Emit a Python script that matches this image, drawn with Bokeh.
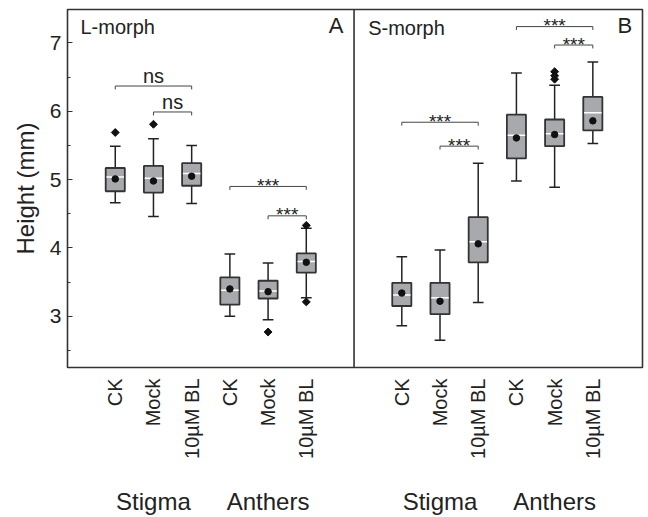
import math
from bokeh.plotting import figure
from bokeh.models import Range1d, LinearAxis, FixedTicker, Span, Label
from bokeh.embed import file_html
from bokeh.resources import INLINE

FONT = "Liberation Sans"

panels = ["L-morph", "S-morph"]
panel_tags = ["A", "B"]
groups = ["Stigma", "Anthers"]
treatments = ["CK", "Mock", "10µM BL"]

# Box order per panel: Stigma CK, Mock, 10µM BL, Anthers CK, Mock, 10µM BL
whisker_low = [4.66, 4.46, 4.65, 3.00, 2.95, 3.27,
               2.86, 2.65, 3.20, 4.98, 4.89, 5.53]
q1 = [4.83, 4.81, 4.91, 3.17, 3.26, 3.64,
      3.15, 3.03, 3.79, 5.31, 5.49, 5.72]
median = [5.04, 5.02, 5.09, 3.38, 3.37, 3.80,
          3.31, 3.27, 4.09, 5.65, 5.67, 5.98]
q3 = [5.17, 5.20, 5.24, 3.57, 3.52, 3.92,
      3.49, 3.49, 4.45, 5.95, 5.88, 6.21]
whisker_high = [5.49, 5.60, 5.50, 3.91, 3.78, 4.29,
                3.87, 3.97, 5.24, 6.56, 6.38, 6.72]
mean = [5.01, 4.98, 5.05, 3.40, 3.36, 3.79,
        3.34, 3.22, 4.06, 5.61, 5.66, 5.86]
outliers = [[5.69], [5.81], [], [], [2.77], [4.33, 3.21],
            [], [], [], [], [6.58, 6.52, 6.47], []]

# significance brackets: panel, first box, last box (1..6 within panel), level, label
br_panel = [0, 0, 0, 0, 1, 1, 1, 1]
br_from = [1, 2, 4, 5, 1, 2, 4, 5]
br_to = [3, 3, 6, 6, 3, 3, 6, 6]
br_level = [6.37, 5.99, 4.90, 4.47, 5.84, 5.49, 7.24, 6.97]
br_label = ["ns", "ns", "***", "***", "***", "***", "***", "***"]

PANEL_SHIFT = 7.5
BOX_W = 0.5
CAP_W = 0.28
TICK_DROP = 0.05

def pos(panel, k):
    return panel * PANEL_SHIFT + k

positions = []
labels = []
for pi_, _ in enumerate(panels):
    for gi, _g in enumerate(groups):
        for ti, t in enumerate(treatments):
            positions.append(pos(pi_, gi * 3 + ti + 1))
            labels.append(t)

group_pos = []
group_lab = []
for pi_, _ in enumerate(panels):
    for gi, g in enumerate(groups):
        group_pos.append(pos(pi_, gi * 3 + 2))
        group_lab.append(g)

p = figure(width=646, height=517,
           x_range=Range1d(-0.25, 14.8), y_range=Range1d(2.25, 7.49),
           output_backend="svg", toolbar_location=None,
           x_axis_location=None,
           min_border_left=67, min_border_right=4, min_border_top=9)
p.grid.visible = False
p.outline_line_color = "#333333"
p.outline_line_width = 1.6
p.background_fill_color = "white"
p.border_fill_color = "white"

# y axis
ya = p.yaxis[0]
ya.ticker = FixedTicker(ticks=[3, 4, 5, 6, 7],
                        minor_ticks=[2.5, 3.5, 4.5, 5.5, 6.5, 7.5])
ya.axis_line_color = None
ya.major_tick_in = 5
ya.major_tick_out = 0
ya.minor_tick_in = 3
ya.minor_tick_out = 0
ya.major_tick_line_color = "#333333"
ya.minor_tick_line_color = "#333333"
ya.major_label_standoff = 6
ya.major_label_text_font = FONT
ya.major_label_text_font_size = "21px"
ya.major_label_text_color = "#222222"
ya.axis_label = "Height (mm)"
ya.axis_label_text_font = FONT
ya.axis_label_text_font_size = "24px"
ya.axis_label_text_font_style = "normal"
ya.axis_label_text_color = "#222222"
ya.axis_label_standoff = 8

# x axis with treatment names
ax1 = LinearAxis(ticker=FixedTicker(ticks=positions, minor_ticks=[]),
                 major_label_overrides={float(x): t for x, t in zip(positions, labels)},
                 major_label_orientation=math.pi / 2,
                 major_tick_in=0, major_tick_out=0,
                 minor_tick_in=0, minor_tick_out=0,
                 axis_line_color=None,
                 major_label_standoff=11,
                 major_label_text_font=FONT,
                 major_label_text_font_size="20px",
                 major_label_text_color="#222222")
p.add_layout(ax1, "below")

# x axis with group names
ax2 = LinearAxis(ticker=FixedTicker(ticks=group_pos, minor_ticks=[]),
                 major_label_overrides={float(x): g for x, g in zip(group_pos, group_lab)},
                 major_tick_in=0, major_tick_out=0,
                 minor_tick_in=0, minor_tick_out=0,
                 axis_line_color=None,
                 major_label_standoff=26,
                 major_label_text_font=FONT,
                 major_label_text_font_size="24px",
                 major_label_text_color="#222222")
p.add_layout(ax2, "below")

# panel divider
p.add_layout(Span(location=(positions[5] + positions[6]) / 2, dimension="height",
                  line_color="#333333", line_width=1.6))

# whiskers
p.segment(x0=positions, y0=q3, x1=positions, y1=whisker_high, line_color="#222222", line_width=1.5)
p.segment(x0=positions, y0=whisker_low, x1=positions, y1=q1, line_color="#222222", line_width=1.5)
p.segment(x0=[x - CAP_W / 2 for x in positions], y0=whisker_high,
          x1=[x + CAP_W / 2 for x in positions], y1=whisker_high,
          line_color="#222222", line_width=1.5)
p.segment(x0=[x - CAP_W / 2 for x in positions], y0=whisker_low,
          x1=[x + CAP_W / 2 for x in positions], y1=whisker_low,
          line_color="#222222", line_width=1.5)

# boxes
p.vbar(x=positions, width=BOX_W, bottom=q1, top=q3,
       fill_color="#a7a9ac", line_color="#333333", line_width=1.8)
# medians
p.segment(x0=[x - BOX_W / 2 + 0.02 for x in positions], y0=median,
          x1=[x + BOX_W / 2 - 0.02 for x in positions], y1=median,
          line_color="white", line_width=1.5)
# means
p.scatter(x=positions, y=mean, marker="circle", size=6.5,
          fill_color="#111111", line_color="#111111")
# outliers
ox, oy = [], []
for x, outs in zip(positions, outliers):
    for o in outs:
        ox.append(x)
        oy.append(o)
p.scatter(x=ox, y=oy, marker="square", angle=math.pi / 4, size=5.6,
          fill_color="#111111", line_color="#111111")

# significance brackets
bx0 = [pos(pn, a) for pn, a in zip(br_panel, br_from)]
bx1 = [pos(pn, b) for pn, b in zip(br_panel, br_to)]
p.segment(x0=bx0, y0=br_level, x1=bx1, y1=br_level, line_color="#444444", line_width=1)
p.segment(x0=bx0, y0=br_level, x1=bx0, y1=[y - TICK_DROP for y in br_level],
          line_color="#444444", line_width=1)
p.segment(x0=bx1, y0=br_level, x1=bx1, y1=[y - TICK_DROP for y in br_level],
          line_color="#444444", line_width=1)
mid = [(a + b) / 2 for a, b in zip(bx0, bx1)]
ns_i = [i for i, l in enumerate(br_label) if l == "ns"]
st_i = [i for i, l in enumerate(br_label) if l != "ns"]
p.text(x=[mid[i] for i in ns_i], y=[br_level[i] for i in ns_i],
       text=[br_label[i] for i in ns_i], text_align="center",
       text_baseline="alphabetic", y_offset=-10,
       text_font={"value": FONT}, text_font_size="20px", text_color="#222222")
p.text(x=[mid[i] for i in st_i], y=[br_level[i] for i in st_i],
       text=[br_label[i] for i in st_i], text_align="center",
       text_baseline="alphabetic", y_offset=-1,
       text_font={"value": FONT}, text_font_size="19px", text_color="#222222")

# panel titles and letters
tx = [0.09, 7.62]
ty = [7.23, 7.22]
lx = [6.97, 14.53]
ly = [7.25, 7.26]
for i in range(2):
    p.add_layout(Label(x=tx[i], y=ty[i], text=panels[i], text_font=FONT,
                       text_font_size="20px", text_color="#222222",
                       text_align="left", text_baseline="alphabetic"))
    p.add_layout(Label(x=lx[i], y=ly[i], text=panel_tags[i], text_font=FONT,
                       text_font_size="22px", text_color="#222222",
                       text_align="right", text_baseline="alphabetic"))

open("out.html", "w").write(file_html(p, INLINE))
